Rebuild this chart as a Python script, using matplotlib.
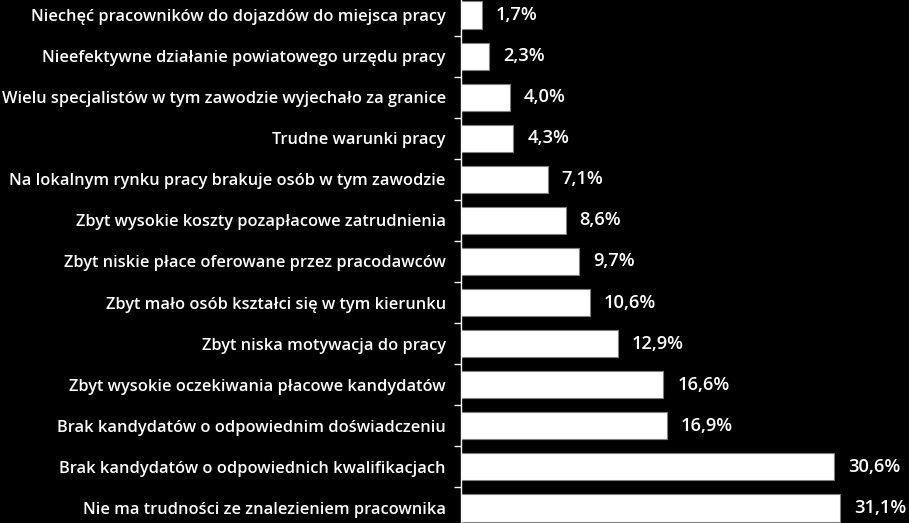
import matplotlib
matplotlib.use("Agg")
import matplotlib.pyplot as plt
import numpy as np

categories = [
    "Niechęć pracowników do dojazdów do miejsca pracy",
    "Nieefektywne działanie powiatowego urzędu pracy",
    "Wielu specjalistów w tym zawodzie wyjechało za granice",
    "Trudne warunki pracy",
    "Na lokalnym rynku pracy brakuje osób w tym zawodzie",
    "Zbyt wysokie koszty pozapłacowe zatrudnienia",
    "Zbyt niskie płace oferowane przez pracodawców",
    "Zbyt mało osób kształci się w tym kierunku",
    "Zbyt niska motywacja do pracy",
    "Zbyt wysokie oczekiwania płacowe kandydatów",
    "Brak kandydatów o odpowiednim doświadczeniu",
    "Brak kandydatów o odpowiednich kwalifikacjach",
    "Nie ma trudności ze znalezieniem pracownika",
]
values = [1.7, 2.3, 4.0, 4.3, 7.1, 8.6, 9.7, 10.6, 12.9, 16.6, 16.9, 30.6, 31.1]
value_labels = ["1,7%", "2,3%", "4,0%", "4,3%", "7,1%", "8,6%", "9,7%", "10,6%",
                "12,9%", "16,6%", "16,9%", "30,6%", "31,1%"]

plt.rcParams['font.family'] = ['Open Sans', 'DejaVu Sans']

W, H = 909, 523
fig = plt.figure(figsize=(W / 100, H / 100), dpi=100, facecolor='black')
left = 461 / W
top_px, bot_px = -5.5, 528.5
ax = fig.add_axes([left, 1 - bot_px / H, 1 - left, (bot_px - top_px) / H])
ax.set_facecolor('black')

n = len(categories)
y = np.arange(n)
ax.barh(y, values, height=0.66, color='white', edgecolor='#808080', linewidth=0.8)
ax.set_ylim(n - 0.5, -0.5)
ax.set_xlim(0, (W - 461) / 12.19)

for yi, v, lab in zip(y, values, value_labels):
    ax.annotate(lab, (v, yi), xytext=(10, 0), textcoords='offset points',
                va='center', ha='left', color='white', fontsize=13.2, fontweight='semibold')

ax.set_yticks(y)
ax.set_yticklabels(categories, color='white', fontsize=11.8, fontweight='semibold')
ax.tick_params(axis='y', which='major', length=0, pad=11)
ax.set_yticks(np.arange(-0.5, n, 1), minor=True)
ax.tick_params(axis='y', which='minor', length=5, color='white', width=1)
ax.set_xticks([])
for s in ['top', 'right', 'bottom']:
    ax.spines[s].set_visible(False)
ax.spines['left'].set_color('white')
ax.spines['left'].set_linewidth(1)

fig.savefig('out.png', dpi=100, facecolor='black')
